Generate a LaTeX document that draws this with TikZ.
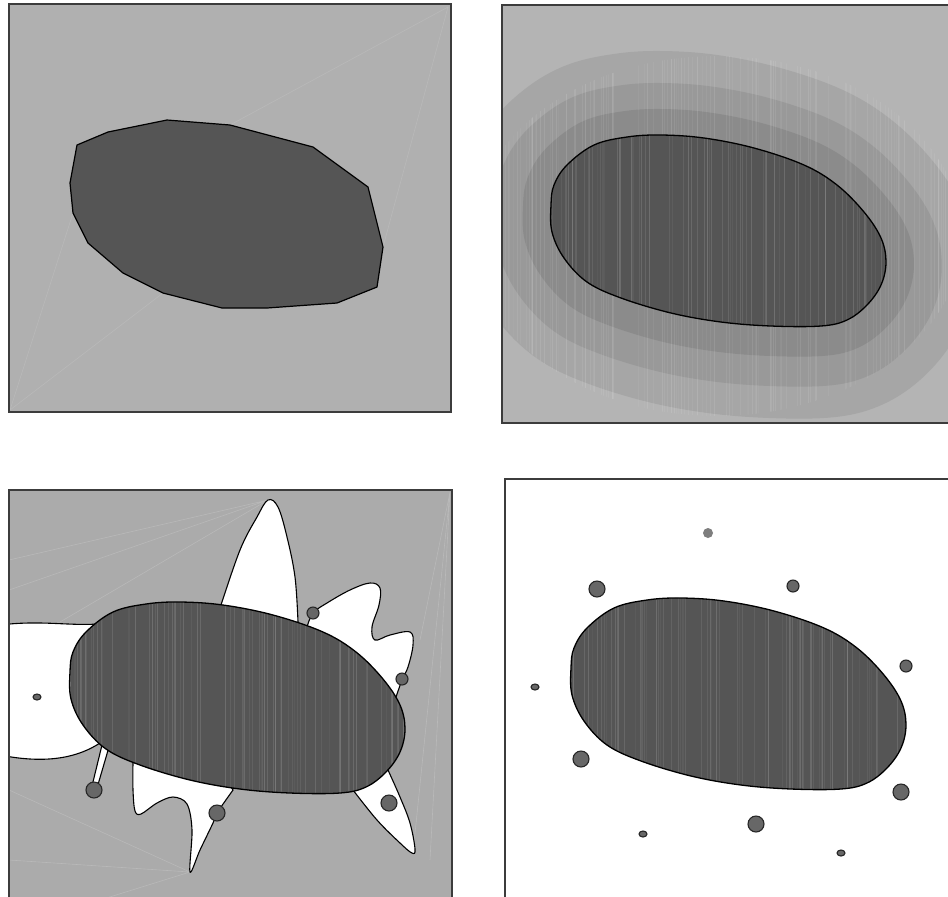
\documentclass[tikz,border=0pt]{standalone}
\usepackage{tikz}

\definecolor{panelgray}{HTML}{B0B0B0}
\definecolor{blobgray}{HTML}{555555}
\definecolor{ringA}{HTML}{A6A6A6}
\definecolor{ringB}{HTML}{999999}
\definecolor{ringC}{HTML}{8B8B8B}
\definecolor{framegray}{HTML}{3C3C3C}
\definecolor{speckgray}{HTML}{676767}
\definecolor{fainthue}{HTML}{B9B9B9}

\newcommand{\blobshape}{plot[smooth cycle, tension=0.6] coordinates {(-166,-25) (-163,-45) (-150,-65) (-123,-85) (-90,-93) (-56,-95) (-13,-92) (37,-82) (87,-65) (120,-45) (147,-18) (164,8) (169,32) (164,55) (150,75) (130,90) (104,96) (54,96) (4,92) (-46,83) (-96,68) (-130,52) (-153,28) (-165,2)}}

\newcommand{\streakset}[6]{%
  \foreach \k in {1,...,#5}{%
    \pgfmathsetmacro\sx{#1+(#2-#1)*rnd}%
    \pgfmathsetmacro\so{0.03+#6*rnd}%
    \draw[white, opacity=\so, line width=0.3pt] (\sx,#3) -- (\sx,#4);
  }}

\begin{document}
\begin{tikzpicture}[x=0.5pt, y=-0.5pt,
  frame/.style={draw=framegray, line width=0.8pt},
  blob/.style={fill=blobgray, draw=black, line width=0.65pt},
  lobe/.style={fill=white, draw=black, line width=0.55pt},
  speck/.style={fill=speckgray, draw=black!85, line width=0.55pt},
  faint/.style={draw=fainthue, line width=0.3pt},
  ring/.style={fill=#1, draw=#1, line join=round}]
\pgfmathsetseed{42}
\useasboundingbox (0,0) rectangle (948,896);
\clip (0,0) rectangle (948,896);

% top left
\fill[panelgray] (9,4) rectangle (451,412);
\draw[faint] (10,410) -- (73,213) (10,410) -- (163,293) (448,7) -- (230,125) (448,7) -- (383,247);
\draw[fill=blobgray, draw=black, line width=0.6pt, line join=round]
  (77,145) -- (108,132) -- (167,120) -- (230,125) -- (313,147) -- (368,187) -- (383,247) -- (377,287)
  -- (337,303) -- (267,308) -- (222,308) -- (163,293) -- (123,273) -- (88,243) -- (73,213) -- (70,183) -- cycle;
\draw[frame] (9,4) rectangle (451,412);

% top right
\begin{scope}
  \clip (502,5) rectangle (950,423);
  \fill[panelgray!95!white] (502,5) rectangle (950,423);
  \path[ring=ringA, line width=88pt, shift={(717,234)}] \blobshape;
  \path[ring=ringB, line width=56pt, shift={(717,234)}] \blobshape;
  \path[ring=ringC, line width=28pt, shift={(717,232)}] \blobshape;
  \begin{scope}
    \clip (717,236) ellipse[x radius=245, y radius=180];
    \streakset{502}{946}{40}{423}{120}{0.07}
  \end{scope}
  \fill[blobgray, shift={(717,230)}] \blobshape;
  \begin{scope}
    \clip[shift={(717,230)}] \blobshape;
    \streakset{550}{890}{130}{330}{80}{0.12}
  \end{scope}
  \draw[blob, fill=none, shift={(717,230)}] \blobshape;
\end{scope}
\draw[frame] (950,5) -- (502,5) -- (502,423) -- (950,423);

% bottom left
\begin{scope}
  \clip (9,490) rectangle (452,905);
  \fill[panelgray!97!black] (9,490) rectangle (452,905);
  \draw[faint] (268,500) -- (9,590) (268,500) -- (9,560) (268,500) -- (60,622)
    (190,872) -- (9,790) (190,872) -- (9,860) (190,872) -- (100,900)
    (450,492) -- (413,853) (450,492) -- (430,860) (450,492) -- (420,640);
  \draw[lobe] (0,625) .. controls (40,620) and (70,626) .. (97,624) -- (150,660) -- (140,740) -- (100,743)
    .. controls (80,756) and (50,765) .. (0,755) -- cycle;
  \draw[lobe] plot[smooth, tension=0.6] coordinates {(220,608) (240,550) (257,517) (268,500) (278,507) (287,537) (295,577) (298,622)} -- (260,650) -- (215,640) -- cycle;
  \draw[lobe] plot[smooth, tension=0.6] coordinates {(307,627) (313,613) (327,603) (350,590) (370,583) (380,588) (379,605) (372,627) (375,640) (390,635) (410,632) (413,645) (408,667) (402,680) (395,700)} -- (370,690) -- (300,645) -- cycle;
  \draw[lobe] plot[smooth, tension=0.6] coordinates {(353,790) (377,820) (400,843) (412,853) (415,849) (410,823) (400,797) (388,770)} -- (370,760) -- (345,780) -- cycle;
  \draw[lobe] plot[smooth, tension=0.55] coordinates {(133,762) (133,790) (135,811) (141,814) (157,803) (173,797) (187,804) (192,830) (190,872) (200,850) (213,823) (217,813) (233,790)} -- (220,770) -- (145,750) -- cycle;
  \draw[lobe] (102,745) -- (92,786) -- (97,788) -- (109,747) -- cycle;
  \fill[blobgray, shift={(236,697)}] \blobshape;
  \begin{scope}
    \clip[shift={(236,697)}] \blobshape;
    \streakset{68}{408}{595}{795}{80}{0.12}
  \end{scope}
  \draw[blob, fill=none, shift={(236,697)}] \blobshape;
  \foreach \px/\py/\rx/\ry in {37/697/4/3, 94/790/8/8, 217/813/8/8, 389/803/8/8, 313/613/6/6, 402/679/6/6}
    \draw[speck] (\px,\py) ellipse[x radius=\rx, y radius=\ry];
\end{scope}
\draw[frame] (9,905) -- (9,490) -- (452,490) -- (452,905);

% bottom right
\fill[white] (505,479) rectangle (955,905);
\fill[blobgray, shift={(737,693)}] \blobshape;
\begin{scope}
  \clip[shift={(737,693)}] \blobshape;
  \streakset{570}{910}{595}{795}{80}{0.12}
\end{scope}
\draw[blob, fill=none, shift={(737,693)}] \blobshape;
\fill[speckgray!85!white] (708,533) circle[radius=5];
\foreach \px/\py/\rx/\ry in {597/589/8/8, 793/586/6/6, 906/666/6/6, 535/687/4/3, 581/759/8/8, 901/792/8/8, 756/824/8/8, 643/834/4/3, 841/853/4/3}
  \draw[speck] (\px,\py) ellipse[x radius=\rx, y radius=\ry];
\draw[frame] (505,905) -- (505,479) -- (955,479);
\end{tikzpicture}
\end{document}
